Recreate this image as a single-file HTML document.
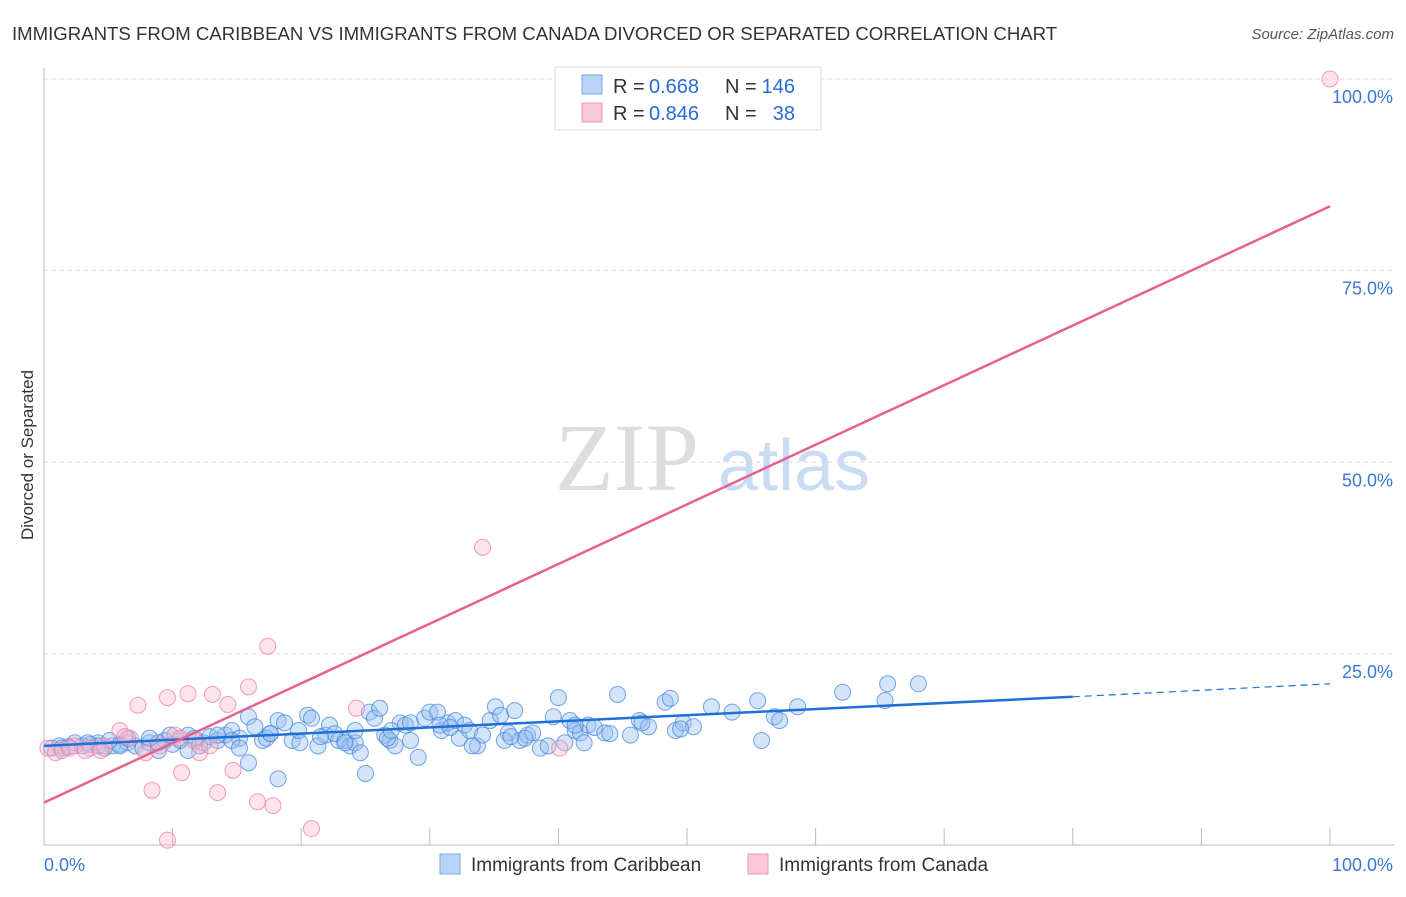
<!DOCTYPE html>
<html><head><meta charset="utf-8"><style>
body{margin:0;background:#fff;font-family:"Liberation Sans",sans-serif}
</style></head><body>
<svg id="c" width="1406" height="892" xmlns="http://www.w3.org/2000/svg">
<text x="12" y="40" font-size="18.6" fill="#333">IMMIGRANTS FROM CARIBBEAN VS IMMIGRANTS FROM CANADA DIVORCED OR SEPARATED CORRELATION CHART</text>
<text x="1394" y="39" font-size="15" fill="#555" font-style="italic" text-anchor="end">Source: ZipAtlas.com</text>
<text x="555" y="490" font-size="96" fill="#ddd" font-family="Liberation Serif">ZIP</text>
<text x="718" y="490" font-size="72" fill="#c9dcf3">atlas</text>
<text transform="translate(33,455) rotate(-90)" font-size="17" fill="#333" text-anchor="middle">Divorced or Separated</text>
<g id="grid"></g><g id="marks"></g>
<g>
<rect x="555" y="67" width="266" height="63" fill="#fff" stroke="#ddd"/>
<rect x="582" y="75" width="20" height="19" fill="#b9d4f6" stroke="#7aa9e6"/>
<rect x="582" y="103" width="20" height="19" fill="#fbc8d6" stroke="#ef94b0"/>
<text x="613" y="93" font-size="20" fill="#333">R =</text>
<text x="649" y="93" font-size="20" fill="#2a6bd6">0.668</text>
<text x="725" y="93" font-size="20" fill="#333">N =</text>
<text x="795" y="93" font-size="20" fill="#2a6bd6" text-anchor="end">146</text>
<text x="613" y="120" font-size="20" fill="#333">R =</text>
<text x="649" y="120" font-size="20" fill="#2a6bd6">0.846</text>
<text x="725" y="120" font-size="20" fill="#333">N =</text>
<text x="795" y="120" font-size="20" fill="#2a6bd6" text-anchor="end">38</text>
</g>
<g>
<rect x="440" y="854" width="20" height="20" fill="#b9d4f6" stroke="#7aa9e6"/>
<text x="471" y="871" font-size="19" fill="#333">Immigrants from Caribbean</text>
<rect x="748" y="854" width="20" height="20" fill="#fbc8d6" stroke="#ef94b0"/>
<text x="779" y="871" font-size="19" fill="#333">Immigrants from Canada</text>
</g>
</svg>
<script>
const blueX=[0.6,1.2,1.9,2.4,3.0,3.6,4.2,4.7,5.3,5.9,6.5,7.1,7.7,8.2,8.9,9.4,10.0,10.6,11.2,11.7,12.4,12.9,13.5,14.1,14.6,15.2,15.9,16.4,17.0,17.6,18.2,18.7,19.3,19.9,20.5,20.8,21.3,21.9,22.2,22.9,23.4,23.8,24.2,24.6,25.0,25.3,25.7,26.1,26.5,26.9,27.3,27.7,28.1,28.5,29.1,29.6,30.0,30.6,30.9,31.4,32.0,32.3,32.7,33.1,33.7,34.1,34.7,35.1,35.5,36.1,36.6,37.0,37.6,38.0,38.6,39.2,39.6,40.0,40.5,40.9,41.3,41.7,42.3,42.8,43.6,44.6,46.3,47.0,48.3,48.7,49.1,49.7,50.5,51.9,53.5,55.5,55.8,56.8,57.2,58.6,62.1,65.4,65.6,68.0,15.9,18.2,8.9,11.2,13.5,5.9,6.5,4.2,17.3,19.8,22.6,24.2,26.7,28.5,30.8,33.3,35.8,37.4,41.3,44.0,45.6,46.5,49.5,8.2,12.1,14.6,17.6,21.5,23.4,15.2,1.4,3.4,5.1,9.8,27.0,31.6,36.3,42.0];
const blueY=[12.7,13.0,12.9,13.4,13.0,13.2,13.4,12.7,13.0,13.2,13.4,13.0,12.7,13.4,12.4,13.7,13.2,13.7,14.4,14.0,13.4,14.2,13.7,14.4,15.0,14.0,16.8,15.5,13.7,14.6,16.3,16.0,13.7,13.4,17.0,16.6,13.0,14.4,15.7,13.7,13.7,13.0,13.4,12.1,9.4,17.4,16.6,17.9,14.4,13.7,13.0,16.0,15.7,16.0,11.5,16.6,17.4,17.4,15.0,16.0,16.3,14.0,15.7,15.0,13.0,14.4,16.3,18.1,17.0,14.7,17.6,13.7,14.4,14.7,12.7,13.0,16.8,19.3,13.4,16.3,15.0,14.7,15.7,15.4,14.7,19.7,16.3,15.5,18.7,19.2,15.0,16.0,15.5,18.1,17.4,18.9,13.7,16.8,16.3,18.1,20.0,18.9,21.1,21.1,10.8,8.7,13.4,12.4,14.4,13.0,14.0,13.0,14.0,15.0,14.6,15.0,14.0,13.7,15.7,13.0,13.7,14.0,15.7,14.6,14.4,16.0,15.2,14.0,13.0,13.7,14.6,14.2,13.4,12.7,12.7,13.4,13.7,14.4,15.0,15.4,14.2,13.4];
const pinkX=[0.3,0.9,1.4,2.4,3.6,4.7,5.9,6.7,7.3,7.9,8.4,9.0,9.6,10.2,10.7,11.2,11.7,12.1,12.9,13.1,13.5,14.3,14.7,15.9,16.6,17.4,17.8,20.8,9.6,24.3,34.1,40.1,100,6.3,3.2,2.0,4.4,10.6];
const pinkY=[12.7,12.1,12.4,13.0,12.7,13.0,15.0,14.0,18.3,12.1,7.2,13.0,19.3,14.4,9.5,19.8,13.7,12.1,13.0,19.7,6.9,18.4,9.8,20.7,5.7,26.0,5.2,2.2,0.7,17.9,38.9,12.7,100,14.2,12.4,12.7,12.4,14.0];
const regBlue=[13.0,19.4,21.1];
const regPink=[5.6,83.4];
const xTicks=["0.0%","100.0%"];
const yTicks=["25.0%","50.0%","75.0%","100.0%"];
const yVals=[25,50,75,100];
const NS="http://www.w3.org/2000/svg";
const X=v=>44+v*12.86, Y=v=>845.5-v*7.665;
function mk(t,a,p){const e=document.createElementNS(NS,t);for(const k in a)e.setAttribute(k,a[k]);p.appendChild(e);return e;}
const g=document.getElementById('grid'),m=document.getElementById('marks');
yVals.forEach((v,i)=>{const l=mk('line',{x1:44,x2:1394,y1:Y(v),y2:Y(v),stroke:'#ddd','stroke-dasharray':'4,4'},g);


const t=mk('text',{x:1393,y:Y(v)+24,'font-size':18,fill:'#3a78d8','text-anchor':'end'},g);t.textContent=yTicks[i];

});
let ax=mk('line',{x1:44,x2:44,y1:68,y2:845,stroke:'#bbb'},g);


ax=mk('line',{x1:44,x2:1394,y1:845,y2:845,stroke:'#bbb'},g);


for(let i=1;i<=10;i++){const t=mk('line',{x1:X(i*10),x2:X(i*10),y1:828,y2:845,stroke:'#bbb'},g);

}
[[0,'start',44],[100,'end',1393]].forEach((d,i)=>{const t=mk('text',{x:d[2],y:871,'font-size':18,fill:'#3a78d8','text-anchor':d[1]},g);t.textContent=xTicks[i];

});
const nB=Math.min(blueX.length,blueY.length);
for(let i=0;i<nB;i++){const c=mk('circle',{cx:X(blueX[i]),cy:Y(blueY[i]),r:8,fill:'rgba(150,190,240,0.4)',stroke:'rgba(60,130,220,0.7)','stroke-width':1},m);

}
pinkX.forEach((x,i)=>{const c=mk('circle',{cx:X(x),cy:Y(pinkY[i]),r:8,fill:'rgba(250,185,205,0.4)',stroke:'rgba(235,120,160,0.7)','stroke-width':1},m);

});
let l=mk('line',{x1:X(0),y1:Y(regBlue[0]),x2:X(80),y2:Y(regBlue[1]),stroke:'#1f6fd8','stroke-width':2.5},m);


l=mk('line',{x1:X(80),y1:Y(regBlue[1]),x2:X(100),y2:Y(regBlue[2]),stroke:'#1f6fd8','stroke-width':1.2,'stroke-dasharray':'7,5'},m);


l=mk('line',{x1:X(0),y1:Y(regPink[0]),x2:X(100),y2:Y(regPink[1]),stroke:'#e8608e','stroke-width':2.5},m);


</script>
</body></html>
